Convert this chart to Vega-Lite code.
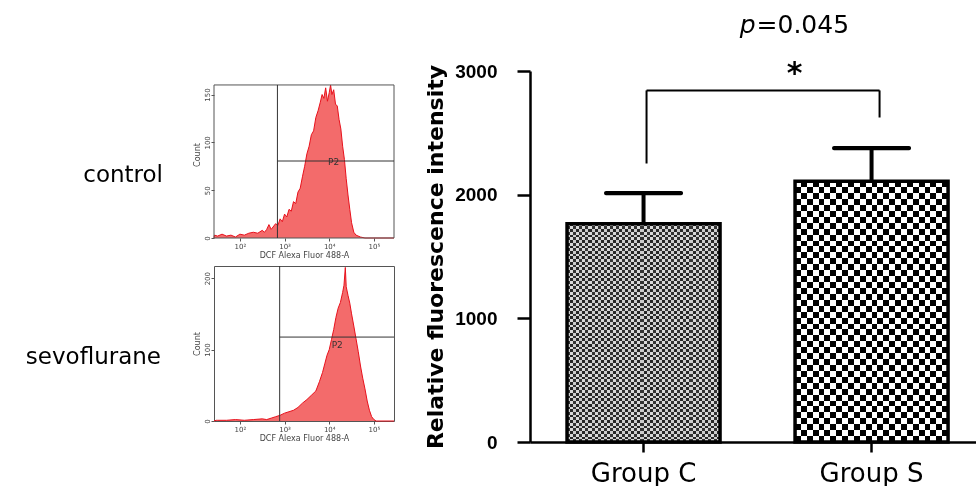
{
  "$schema": "https://vega.github.io/schema/vega-lite/v6.json",
  "background": "white",
  "padding": {"left": 25, "top": 13, "right": 0, "bottom": 0},
  "config": {"view": {"stroke": null}, "font": "DejaVu Sans"},
  "spacing": 27,
  "hconcat": [
    {
      "spacing": 5,
      "vconcat": [
        {
          "width": 180,
          "height": 167,
          "title": {"text": "control", "orient": "left", "angle": 0, "align": "left", "baseline": "middle", "anchor": "middle", "offset": 30, "dy": 20, "font": "DejaVu Sans", "fontSize": 23, "fontWeight": "normal", "color": "black"},
          "layer": [
            {
              "data": {"values": [
                {"log_fl": 1.42, "count": 0}, {"log_fl": 1.43, "count": 3}, {"log_fl": 1.5, "count": 2}, {"log_fl": 1.6, "count": 4}, {"log_fl": 1.7, "count": 2}, {"log_fl": 1.8, "count": 3}, {"log_fl": 1.9, "count": 1}, {"log_fl": 2.0, "count": 4}, {"log_fl": 2.1, "count": 3}, {"log_fl": 2.2, "count": 5}, {"log_fl": 2.3, "count": 6}, {"log_fl": 2.4, "count": 5}, {"log_fl": 2.5, "count": 8}, {"log_fl": 2.55, "count": 6}, {"log_fl": 2.6, "count": 9}, {"log_fl": 2.65, "count": 14}, {"log_fl": 2.7, "count": 9}, {"log_fl": 2.8, "count": 15}, {"log_fl": 2.85, "count": 13}, {"log_fl": 2.9, "count": 20}, {"log_fl": 2.95, "count": 17}, {"log_fl": 3.0, "count": 25}, {"log_fl": 3.05, "count": 22}, {"log_fl": 3.1, "count": 30}, {"log_fl": 3.15, "count": 28}, {"log_fl": 3.2, "count": 38}, {"log_fl": 3.25, "count": 36}, {"log_fl": 3.3, "count": 48}, {"log_fl": 3.35, "count": 52}, {"log_fl": 3.4, "count": 64}, {"log_fl": 3.45, "count": 75}, {"log_fl": 3.5, "count": 88}, {"log_fl": 3.55, "count": 96}, {"log_fl": 3.6, "count": 108}, {"log_fl": 3.65, "count": 112}, {"log_fl": 3.7, "count": 126}, {"log_fl": 3.75, "count": 133}, {"log_fl": 3.8, "count": 142}, {"log_fl": 3.84, "count": 150}, {"log_fl": 3.88, "count": 146}, {"log_fl": 3.92, "count": 157}, {"log_fl": 3.96, "count": 143}, {"log_fl": 4.0, "count": 152}, {"log_fl": 4.03, "count": 160}, {"log_fl": 4.06, "count": 150}, {"log_fl": 4.1, "count": 155}, {"log_fl": 4.14, "count": 140}, {"log_fl": 4.18, "count": 138}, {"log_fl": 4.22, "count": 124}, {"log_fl": 4.26, "count": 114}, {"log_fl": 4.3, "count": 96}, {"log_fl": 4.34, "count": 82}, {"log_fl": 4.38, "count": 62}, {"log_fl": 4.42, "count": 45}, {"log_fl": 4.46, "count": 30}, {"log_fl": 4.5, "count": 16}, {"log_fl": 4.55, "count": 6}, {"log_fl": 4.6, "count": 3}, {"log_fl": 4.7, "count": 1}, {"log_fl": 4.8, "count": 0}, {"log_fl": 5.45, "count": 0}
              ]},
              "mark": {"type": "area", "color": "#f36b6b", "opacity": 1, "line": {"color": "#e8111c", "strokeWidth": 1}},
              "encoding": {
                "x": {"field": "log_fl", "type": "quantitative", "scale": {"domain": [1.42, 5.45], "nice": false, "zero": false},
                  "axis": {"values": [2, 3, 4, 5], "labelExpr": "datum.value == 2 ? '10²' : datum.value == 3 ? '10³' : datum.value == 4 ? '10⁴' : '10⁵'", "labelFontSize": 7, "labelColor": "#444", "labelPadding": 1, "tickSize": 3, "tickColor": "#555", "domain": false, "grid": false, "title": "DCF Alexa Fluor 488-A", "titleFontSize": 8, "titleFontWeight": "normal", "titleColor": "#444", "titlePadding": 2}},
                "y": {"field": "count", "type": "quantitative", "scale": {"domain": [0, 174.6], "nice": false},
                  "axis": {"values": [0, 50, 100, 150], "labelAngle": -90, "labelFontSize": 7, "labelColor": "#444", "labelPadding": 1, "tickSize": 3, "tickColor": "#555", "domain": false, "grid": false, "title": "Count", "titleFontSize": 8, "titleFontWeight": "normal", "titleColor": "#444", "titlePadding": 2}}
              }
            },
            {
              "data": {"values": [{"x_min": 1.42, "x_max": 5.45, "c_min": 0, "c_max": 160}]},
              "mark": {"type": "rect", "filled": false, "stroke": "#555", "strokeWidth": 1},
              "encoding": {"x": {"field": "x_min", "type": "quantitative"}, "x2": {"field": "x_max"}, "y": {"field": "c_min", "type": "quantitative"}, "y2": {"field": "c_max"}}
            },
            {
              "data": {"values": [{"gate": 2.84, "c_min": 0, "c_max": 160}]},
              "mark": {"type": "rule", "color": "#333", "strokeWidth": 1},
              "encoding": {"x": {"field": "gate", "type": "quantitative"}, "y": {"field": "c_min", "type": "quantitative"}, "y2": {"field": "c_max"}}
            },
            {
              "data": {"values": [{"gate": 2.84, "gate_end": 5.45, "level": 80.5}]},
              "mark": {"type": "rule", "color": "#333", "strokeWidth": 1},
              "encoding": {"x": {"field": "gate", "type": "quantitative"}, "x2": {"field": "gate_end"}, "y": {"field": "level", "type": "quantitative"}}
            },
            {
              "data": {"values": [{"label": "P2", "x": 4.1, "y": 79}]},
              "mark": {"type": "text", "fontSize": 9, "color": "#333", "baseline": "middle"},
              "encoding": {"x": {"field": "x", "type": "quantitative"}, "y": {"field": "y", "type": "quantitative"}, "text": {"field": "label"}}
            }
          ]
        },
        {
          "width": 180,
          "height": 155,
          "view": {"stroke": "#555", "strokeWidth": 1},
          "title": {"text": "sevoflurane", "orient": "left", "angle": 0, "align": "left", "baseline": "middle", "anchor": "middle", "offset": 32, "dy": 13, "font": "DejaVu Sans", "fontSize": 23, "fontWeight": "normal", "color": "black"},
          "layer": [
            {
              "data": {"values": [
                {"log_fl": 1.42, "count": 0}, {"log_fl": 1.47, "count": 1}, {"log_fl": 1.5, "count": 1}, {"log_fl": 1.7, "count": 1}, {"log_fl": 1.9, "count": 2}, {"log_fl": 2.1, "count": 1}, {"log_fl": 2.3, "count": 2}, {"log_fl": 2.5, "count": 3}, {"log_fl": 2.6, "count": 2}, {"log_fl": 2.7, "count": 4}, {"log_fl": 2.8, "count": 6}, {"log_fl": 2.9, "count": 8}, {"log_fl": 3.0, "count": 11}, {"log_fl": 3.1, "count": 13}, {"log_fl": 3.2, "count": 15}, {"log_fl": 3.3, "count": 19}, {"log_fl": 3.4, "count": 25}, {"log_fl": 3.5, "count": 30}, {"log_fl": 3.6, "count": 36}, {"log_fl": 3.7, "count": 42}, {"log_fl": 3.78, "count": 55}, {"log_fl": 3.85, "count": 68}, {"log_fl": 3.9, "count": 80}, {"log_fl": 3.95, "count": 92}, {"log_fl": 4.0, "count": 100}, {"log_fl": 4.05, "count": 114}, {"log_fl": 4.1, "count": 128}, {"log_fl": 4.15, "count": 145}, {"log_fl": 4.2, "count": 158}, {"log_fl": 4.25, "count": 166}, {"log_fl": 4.3, "count": 180}, {"log_fl": 4.33, "count": 190}, {"log_fl": 4.36, "count": 215}, {"log_fl": 4.38, "count": 188}, {"log_fl": 4.42, "count": 176}, {"log_fl": 4.46, "count": 165}, {"log_fl": 4.5, "count": 150}, {"log_fl": 4.55, "count": 133}, {"log_fl": 4.6, "count": 115}, {"log_fl": 4.65, "count": 97}, {"log_fl": 4.7, "count": 77}, {"log_fl": 4.75, "count": 60}, {"log_fl": 4.8, "count": 45}, {"log_fl": 4.85, "count": 28}, {"log_fl": 4.9, "count": 15}, {"log_fl": 4.95, "count": 6}, {"log_fl": 5.0, "count": 2}, {"log_fl": 5.05, "count": 0}, {"log_fl": 5.45, "count": 0}
              ]},
              "mark": {"type": "area", "color": "#f36b6b", "opacity": 1, "line": {"color": "#e8111c", "strokeWidth": 1}},
              "encoding": {
                "x": {"field": "log_fl", "type": "quantitative", "scale": {"domain": [1.42, 5.45], "nice": false, "zero": false},
                  "axis": {"values": [2, 3, 4, 5], "labelExpr": "datum.value == 2 ? '10²' : datum.value == 3 ? '10³' : datum.value == 4 ? '10⁴' : '10⁵'", "labelFontSize": 7, "labelColor": "#444", "labelPadding": 1, "tickSize": 3, "tickColor": "#555", "domain": false, "grid": false, "title": "DCF Alexa Fluor 488-A", "titleFontSize": 8, "titleFontWeight": "normal", "titleColor": "#444", "titlePadding": 2}},
                "y": {"field": "count", "type": "quantitative", "scale": {"domain": [0, 217], "nice": false},
                  "axis": {"values": [0, 50, 100, 150, 200], "labelAngle": -90, "labelFontSize": 7, "labelColor": "#444", "labelPadding": 1, "tickSize": 3, "tickColor": "#555", "domain": false, "grid": false, "title": "Count", "titleFontSize": 8, "titleFontWeight": "normal", "titleColor": "#444", "titlePadding": 2}}
              }
            },
            {
              "data": {"values": [{"gate": 2.89}]},
              "mark": {"type": "rule", "color": "#333", "strokeWidth": 1},
              "encoding": {"x": {"field": "gate", "type": "quantitative"}}
            },
            {
              "data": {"values": [{"gate": 2.89, "gate_end": 5.45, "level": 117.5}]},
              "mark": {"type": "rule", "color": "#333", "strokeWidth": 1},
              "encoding": {"x": {"field": "gate", "type": "quantitative"}, "x2": {"field": "gate_end"}, "y": {"field": "level", "type": "quantitative"}}
            },
            {
              "data": {"values": [{"label": "P2", "x": 4.18, "y": 106}]},
              "mark": {"type": "text", "fontSize": 9, "color": "#333", "baseline": "middle"},
              "encoding": {"x": {"field": "x", "type": "quantitative"}, "y": {"field": "y", "type": "quantitative"}, "text": {"field": "label"}}
            }
          ]
        }
      ]
    },
    {
      "width": 446,
      "height": 371,
      "layer": [
        {
          "data": {"values": [
            {"group": "Group C", "mean": 1765, "upper": 2013},
            {"group": "Group S", "mean": 2108, "upper": 2377}
          ]},
          "layer": [
            {
              "transform": [{"filter": "datum.group == 'Group C'"}],
              "mark": {"type": "bar", "strokeWidth": 0, "fill": {"gradient": "linear", "x1": 0, "y1": 0, "x2": 1, "y2": 0, "stops": [
                {"offset": 0, "color": "#333333"}, {"offset": 0.02, "color": "#333333"}, {"offset": 0.02, "color": "#d9d9d9"}, {"offset": 0.04, "color": "#d9d9d9"},
                {"offset": 0.04, "color": "#333333"}, {"offset": 0.06, "color": "#333333"}, {"offset": 0.06, "color": "#d9d9d9"}, {"offset": 0.08, "color": "#d9d9d9"},
                {"offset": 0.08, "color": "#333333"}, {"offset": 0.1, "color": "#333333"}, {"offset": 0.1, "color": "#d9d9d9"}, {"offset": 0.12, "color": "#d9d9d9"},
                {"offset": 0.12, "color": "#333333"}, {"offset": 0.14, "color": "#333333"}, {"offset": 0.14, "color": "#d9d9d9"}, {"offset": 0.16, "color": "#d9d9d9"},
                {"offset": 0.16, "color": "#333333"}, {"offset": 0.18, "color": "#333333"}, {"offset": 0.18, "color": "#d9d9d9"}, {"offset": 0.2, "color": "#d9d9d9"},
                {"offset": 0.2, "color": "#333333"}, {"offset": 0.22, "color": "#333333"}, {"offset": 0.22, "color": "#d9d9d9"}, {"offset": 0.24, "color": "#d9d9d9"},
                {"offset": 0.24, "color": "#333333"}, {"offset": 0.26, "color": "#333333"}, {"offset": 0.26, "color": "#d9d9d9"}, {"offset": 0.28, "color": "#d9d9d9"},
                {"offset": 0.28, "color": "#333333"}, {"offset": 0.3, "color": "#333333"}, {"offset": 0.3, "color": "#d9d9d9"}, {"offset": 0.32, "color": "#d9d9d9"},
                {"offset": 0.32, "color": "#333333"}, {"offset": 0.34, "color": "#333333"}, {"offset": 0.34, "color": "#d9d9d9"}, {"offset": 0.36, "color": "#d9d9d9"},
                {"offset": 0.36, "color": "#333333"}, {"offset": 0.38, "color": "#333333"}, {"offset": 0.38, "color": "#d9d9d9"}, {"offset": 0.4, "color": "#d9d9d9"},
                {"offset": 0.4, "color": "#333333"}, {"offset": 0.42, "color": "#333333"}, {"offset": 0.42, "color": "#d9d9d9"}, {"offset": 0.44, "color": "#d9d9d9"},
                {"offset": 0.44, "color": "#333333"}, {"offset": 0.46, "color": "#333333"}, {"offset": 0.46, "color": "#d9d9d9"}, {"offset": 0.48, "color": "#d9d9d9"},
                {"offset": 0.48, "color": "#333333"}, {"offset": 0.5, "color": "#333333"}, {"offset": 0.5, "color": "#d9d9d9"}, {"offset": 0.52, "color": "#d9d9d9"},
                {"offset": 0.52, "color": "#333333"}, {"offset": 0.54, "color": "#333333"}, {"offset": 0.54, "color": "#d9d9d9"}, {"offset": 0.56, "color": "#d9d9d9"},
                {"offset": 0.56, "color": "#333333"}, {"offset": 0.58, "color": "#333333"}, {"offset": 0.58, "color": "#d9d9d9"}, {"offset": 0.6, "color": "#d9d9d9"},
                {"offset": 0.6, "color": "#333333"}, {"offset": 0.62, "color": "#333333"}, {"offset": 0.62, "color": "#d9d9d9"}, {"offset": 0.64, "color": "#d9d9d9"},
                {"offset": 0.64, "color": "#333333"}, {"offset": 0.66, "color": "#333333"}, {"offset": 0.66, "color": "#d9d9d9"}, {"offset": 0.68, "color": "#d9d9d9"},
                {"offset": 0.68, "color": "#333333"}, {"offset": 0.7, "color": "#333333"}, {"offset": 0.7, "color": "#d9d9d9"}, {"offset": 0.72, "color": "#d9d9d9"},
                {"offset": 0.72, "color": "#333333"}, {"offset": 0.74, "color": "#333333"}, {"offset": 0.74, "color": "#d9d9d9"}, {"offset": 0.76, "color": "#d9d9d9"},
                {"offset": 0.76, "color": "#333333"}, {"offset": 0.78, "color": "#333333"}, {"offset": 0.78, "color": "#d9d9d9"}, {"offset": 0.8, "color": "#d9d9d9"},
                {"offset": 0.8, "color": "#333333"}, {"offset": 0.82, "color": "#333333"}, {"offset": 0.82, "color": "#d9d9d9"}, {"offset": 0.84, "color": "#d9d9d9"},
                {"offset": 0.84, "color": "#333333"}, {"offset": 0.86, "color": "#333333"}, {"offset": 0.86, "color": "#d9d9d9"}, {"offset": 0.88, "color": "#d9d9d9"},
                {"offset": 0.88, "color": "#333333"}, {"offset": 0.9, "color": "#333333"}, {"offset": 0.9, "color": "#d9d9d9"}, {"offset": 0.92, "color": "#d9d9d9"},
                {"offset": 0.92, "color": "#333333"}, {"offset": 0.94, "color": "#333333"}, {"offset": 0.94, "color": "#d9d9d9"}, {"offset": 0.96, "color": "#d9d9d9"},
                {"offset": 0.96, "color": "#333333"}, {"offset": 0.98, "color": "#333333"}, {"offset": 0.98, "color": "#d9d9d9"}, {"offset": 1, "color": "#d9d9d9"}
              ]}},
              "encoding": {
                "x": {"field": "group", "type": "nominal", "sort": null,
                  "scale": {"domain": ["Group C", "Group S"], "paddingInner": 0.329, "paddingOuter": 0.1425, "align": 0.57},
                  "axis": {"title": null, "labelAngle": 0, "labelFont": "DejaVu Sans", "labelFontSize": 26, "labelColor": "black", "labelPadding": 8, "tickSize": 10, "tickWidth": 2.5, "tickColor": "black", "domainColor": "black", "domainWidth": 2.5}},
                "y": {"field": "mean", "type": "quantitative", "scale": {"domain": [0, 3000], "nice": false},
                  "axis": {"values": [0, 1000, 2000, 3000], "format": "d", "grid": false, "labelFont": "Liberation Sans", "labelFontWeight": "bold", "labelFontSize": 19, "labelColor": "black", "labelPadding": 20, "tickSize": 13, "tickWidth": 2.5, "tickColor": "black", "domainColor": "black", "domainWidth": 2.5, "title": "Relative fluorescence intensity", "titleFont": "DejaVu Sans", "titleFontSize": 22, "titleFontWeight": "bold", "titleColor": "black", "titlePadding": 7}}
              }
            },
            {
              "transform": [{"filter": "datum.group == 'Group C'"}],
              "mark": {"type": "bar", "strokeWidth": 0, "blend": "difference", "fill": {"gradient": "linear", "x1": 0, "y1": 0, "x2": 0, "y2": 1, "stops": [
                {"offset": 0, "color": "white"}, {"offset": 0.0125, "color": "white"}, {"offset": 0.0125, "color": "rgba(255,255,255,0)"}, {"offset": 0.025, "color": "rgba(255,255,255,0)"},
                {"offset": 0.025, "color": "white"}, {"offset": 0.0375, "color": "white"}, {"offset": 0.0375, "color": "rgba(255,255,255,0)"}, {"offset": 0.05, "color": "rgba(255,255,255,0)"},
                {"offset": 0.05, "color": "white"}, {"offset": 0.0625, "color": "white"}, {"offset": 0.0625, "color": "rgba(255,255,255,0)"}, {"offset": 0.075, "color": "rgba(255,255,255,0)"},
                {"offset": 0.075, "color": "white"}, {"offset": 0.0875, "color": "white"}, {"offset": 0.0875, "color": "rgba(255,255,255,0)"}, {"offset": 0.1, "color": "rgba(255,255,255,0)"},
                {"offset": 0.1, "color": "white"}, {"offset": 0.1125, "color": "white"}, {"offset": 0.1125, "color": "rgba(255,255,255,0)"}, {"offset": 0.125, "color": "rgba(255,255,255,0)"},
                {"offset": 0.125, "color": "white"}, {"offset": 0.1375, "color": "white"}, {"offset": 0.1375, "color": "rgba(255,255,255,0)"}, {"offset": 0.15, "color": "rgba(255,255,255,0)"},
                {"offset": 0.15, "color": "white"}, {"offset": 0.1625, "color": "white"}, {"offset": 0.1625, "color": "rgba(255,255,255,0)"}, {"offset": 0.175, "color": "rgba(255,255,255,0)"},
                {"offset": 0.175, "color": "white"}, {"offset": 0.1875, "color": "white"}, {"offset": 0.1875, "color": "rgba(255,255,255,0)"}, {"offset": 0.2, "color": "rgba(255,255,255,0)"},
                {"offset": 0.2, "color": "white"}, {"offset": 0.2125, "color": "white"}, {"offset": 0.2125, "color": "rgba(255,255,255,0)"}, {"offset": 0.225, "color": "rgba(255,255,255,0)"},
                {"offset": 0.225, "color": "white"}, {"offset": 0.2375, "color": "white"}, {"offset": 0.2375, "color": "rgba(255,255,255,0)"}, {"offset": 0.25, "color": "rgba(255,255,255,0)"},
                {"offset": 0.25, "color": "white"}, {"offset": 0.2625, "color": "white"}, {"offset": 0.2625, "color": "rgba(255,255,255,0)"}, {"offset": 0.275, "color": "rgba(255,255,255,0)"},
                {"offset": 0.275, "color": "white"}, {"offset": 0.2875, "color": "white"}, {"offset": 0.2875, "color": "rgba(255,255,255,0)"}, {"offset": 0.3, "color": "rgba(255,255,255,0)"},
                {"offset": 0.3, "color": "white"}, {"offset": 0.3125, "color": "white"}, {"offset": 0.3125, "color": "rgba(255,255,255,0)"}, {"offset": 0.325, "color": "rgba(255,255,255,0)"},
                {"offset": 0.325, "color": "white"}, {"offset": 0.3375, "color": "white"}, {"offset": 0.3375, "color": "rgba(255,255,255,0)"}, {"offset": 0.35, "color": "rgba(255,255,255,0)"},
                {"offset": 0.35, "color": "white"}, {"offset": 0.3625, "color": "white"}, {"offset": 0.3625, "color": "rgba(255,255,255,0)"}, {"offset": 0.375, "color": "rgba(255,255,255,0)"},
                {"offset": 0.375, "color": "white"}, {"offset": 0.3875, "color": "white"}, {"offset": 0.3875, "color": "rgba(255,255,255,0)"}, {"offset": 0.4, "color": "rgba(255,255,255,0)"},
                {"offset": 0.4, "color": "white"}, {"offset": 0.4125, "color": "white"}, {"offset": 0.4125, "color": "rgba(255,255,255,0)"}, {"offset": 0.425, "color": "rgba(255,255,255,0)"},
                {"offset": 0.425, "color": "white"}, {"offset": 0.4375, "color": "white"}, {"offset": 0.4375, "color": "rgba(255,255,255,0)"}, {"offset": 0.45, "color": "rgba(255,255,255,0)"},
                {"offset": 0.45, "color": "white"}, {"offset": 0.4625, "color": "white"}, {"offset": 0.4625, "color": "rgba(255,255,255,0)"}, {"offset": 0.475, "color": "rgba(255,255,255,0)"},
                {"offset": 0.475, "color": "white"}, {"offset": 0.4875, "color": "white"}, {"offset": 0.4875, "color": "rgba(255,255,255,0)"}, {"offset": 0.5, "color": "rgba(255,255,255,0)"},
                {"offset": 0.5, "color": "white"}, {"offset": 0.5125, "color": "white"}, {"offset": 0.5125, "color": "rgba(255,255,255,0)"}, {"offset": 0.525, "color": "rgba(255,255,255,0)"},
                {"offset": 0.525, "color": "white"}, {"offset": 0.5375, "color": "white"}, {"offset": 0.5375, "color": "rgba(255,255,255,0)"}, {"offset": 0.55, "color": "rgba(255,255,255,0)"},
                {"offset": 0.55, "color": "white"}, {"offset": 0.5625, "color": "white"}, {"offset": 0.5625, "color": "rgba(255,255,255,0)"}, {"offset": 0.575, "color": "rgba(255,255,255,0)"},
                {"offset": 0.575, "color": "white"}, {"offset": 0.5875, "color": "white"}, {"offset": 0.5875, "color": "rgba(255,255,255,0)"}, {"offset": 0.6, "color": "rgba(255,255,255,0)"},
                {"offset": 0.6, "color": "white"}, {"offset": 0.6125, "color": "white"}, {"offset": 0.6125, "color": "rgba(255,255,255,0)"}, {"offset": 0.625, "color": "rgba(255,255,255,0)"},
                {"offset": 0.625, "color": "white"}, {"offset": 0.6375, "color": "white"}, {"offset": 0.6375, "color": "rgba(255,255,255,0)"}, {"offset": 0.65, "color": "rgba(255,255,255,0)"},
                {"offset": 0.65, "color": "white"}, {"offset": 0.6625, "color": "white"}, {"offset": 0.6625, "color": "rgba(255,255,255,0)"}, {"offset": 0.675, "color": "rgba(255,255,255,0)"},
                {"offset": 0.675, "color": "white"}, {"offset": 0.6875, "color": "white"}, {"offset": 0.6875, "color": "rgba(255,255,255,0)"}, {"offset": 0.7, "color": "rgba(255,255,255,0)"},
                {"offset": 0.7, "color": "white"}, {"offset": 0.7125, "color": "white"}, {"offset": 0.7125, "color": "rgba(255,255,255,0)"}, {"offset": 0.725, "color": "rgba(255,255,255,0)"},
                {"offset": 0.725, "color": "white"}, {"offset": 0.7375, "color": "white"}, {"offset": 0.7375, "color": "rgba(255,255,255,0)"}, {"offset": 0.75, "color": "rgba(255,255,255,0)"},
                {"offset": 0.75, "color": "white"}, {"offset": 0.7625, "color": "white"}, {"offset": 0.7625, "color": "rgba(255,255,255,0)"}, {"offset": 0.775, "color": "rgba(255,255,255,0)"},
                {"offset": 0.775, "color": "white"}, {"offset": 0.7875, "color": "white"}, {"offset": 0.7875, "color": "rgba(255,255,255,0)"}, {"offset": 0.8, "color": "rgba(255,255,255,0)"},
                {"offset": 0.8, "color": "white"}, {"offset": 0.8125, "color": "white"}, {"offset": 0.8125, "color": "rgba(255,255,255,0)"}, {"offset": 0.825, "color": "rgba(255,255,255,0)"},
                {"offset": 0.825, "color": "white"}, {"offset": 0.8375, "color": "white"}, {"offset": 0.8375, "color": "rgba(255,255,255,0)"}, {"offset": 0.85, "color": "rgba(255,255,255,0)"},
                {"offset": 0.85, "color": "white"}, {"offset": 0.8625, "color": "white"}, {"offset": 0.8625, "color": "rgba(255,255,255,0)"}, {"offset": 0.875, "color": "rgba(255,255,255,0)"},
                {"offset": 0.875, "color": "white"}, {"offset": 0.8875, "color": "white"}, {"offset": 0.8875, "color": "rgba(255,255,255,0)"}, {"offset": 0.9, "color": "rgba(255,255,255,0)"},
                {"offset": 0.9, "color": "white"}, {"offset": 0.9125, "color": "white"}, {"offset": 0.9125, "color": "rgba(255,255,255,0)"}, {"offset": 0.925, "color": "rgba(255,255,255,0)"},
                {"offset": 0.925, "color": "white"}, {"offset": 0.9375, "color": "white"}, {"offset": 0.9375, "color": "rgba(255,255,255,0)"}, {"offset": 0.95, "color": "rgba(255,255,255,0)"},
                {"offset": 0.95, "color": "white"}, {"offset": 0.9625, "color": "white"}, {"offset": 0.9625, "color": "rgba(255,255,255,0)"}, {"offset": 0.975, "color": "rgba(255,255,255,0)"},
                {"offset": 0.975, "color": "white"}, {"offset": 0.9875, "color": "white"}, {"offset": 0.9875, "color": "rgba(255,255,255,0)"}, {"offset": 1, "color": "rgba(255,255,255,0)"}
              ]}},
              "encoding": {"x": {"field": "group", "type": "nominal", "sort": null}, "y": {"field": "mean", "type": "quantitative"}}
            },
            {
              "transform": [{"filter": "datum.group == 'Group S'"}],
              "mark": {"type": "bar", "strokeWidth": 0, "fill": {"gradient": "linear", "x1": 0, "y1": 0, "x2": 1, "y2": 0, "stops": [
                {"offset": 0, "color": "black"}, {"offset": 0.03846, "color": "black"}, {"offset": 0.03846, "color": "white"}, {"offset": 0.07692, "color": "white"},
                {"offset": 0.07692, "color": "black"}, {"offset": 0.11538, "color": "black"}, {"offset": 0.11538, "color": "white"}, {"offset": 0.15385, "color": "white"},
                {"offset": 0.15385, "color": "black"}, {"offset": 0.19231, "color": "black"}, {"offset": 0.19231, "color": "white"}, {"offset": 0.23077, "color": "white"},
                {"offset": 0.23077, "color": "black"}, {"offset": 0.26923, "color": "black"}, {"offset": 0.26923, "color": "white"}, {"offset": 0.30769, "color": "white"},
                {"offset": 0.30769, "color": "black"}, {"offset": 0.34615, "color": "black"}, {"offset": 0.34615, "color": "white"}, {"offset": 0.38462, "color": "white"},
                {"offset": 0.38462, "color": "black"}, {"offset": 0.42308, "color": "black"}, {"offset": 0.42308, "color": "white"}, {"offset": 0.46154, "color": "white"},
                {"offset": 0.46154, "color": "black"}, {"offset": 0.5, "color": "black"}, {"offset": 0.5, "color": "white"}, {"offset": 0.53846, "color": "white"},
                {"offset": 0.53846, "color": "black"}, {"offset": 0.57692, "color": "black"}, {"offset": 0.57692, "color": "white"}, {"offset": 0.61538, "color": "white"},
                {"offset": 0.61538, "color": "black"}, {"offset": 0.65385, "color": "black"}, {"offset": 0.65385, "color": "white"}, {"offset": 0.69231, "color": "white"},
                {"offset": 0.69231, "color": "black"}, {"offset": 0.73077, "color": "black"}, {"offset": 0.73077, "color": "white"}, {"offset": 0.76923, "color": "white"},
                {"offset": 0.76923, "color": "black"}, {"offset": 0.80769, "color": "black"}, {"offset": 0.80769, "color": "white"}, {"offset": 0.84615, "color": "white"},
                {"offset": 0.84615, "color": "black"}, {"offset": 0.88462, "color": "black"}, {"offset": 0.88462, "color": "white"}, {"offset": 0.92308, "color": "white"},
                {"offset": 0.92308, "color": "black"}, {"offset": 0.96154, "color": "black"}, {"offset": 0.96154, "color": "white"}, {"offset": 1, "color": "white"}
              ]}},
              "encoding": {"x": {"field": "group", "type": "nominal", "sort": null}, "y": {"field": "mean", "type": "quantitative"}}
            },
            {
              "transform": [{"filter": "datum.group == 'Group S'"}],
              "mark": {"type": "bar", "strokeWidth": 0, "blend": "difference", "fill": {"gradient": "linear", "x1": 0, "y1": 0, "x2": 0, "y2": 1, "stops": [
                {"offset": 0, "color": "white"}, {"offset": 0.02273, "color": "white"}, {"offset": 0.02273, "color": "rgba(255,255,255,0)"}, {"offset": 0.04545, "color": "rgba(255,255,255,0)"},
                {"offset": 0.04545, "color": "white"}, {"offset": 0.06818, "color": "white"}, {"offset": 0.06818, "color": "rgba(255,255,255,0)"}, {"offset": 0.09091, "color": "rgba(255,255,255,0)"},
                {"offset": 0.09091, "color": "white"}, {"offset": 0.11364, "color": "white"}, {"offset": 0.11364, "color": "rgba(255,255,255,0)"}, {"offset": 0.13636, "color": "rgba(255,255,255,0)"},
                {"offset": 0.13636, "color": "white"}, {"offset": 0.15909, "color": "white"}, {"offset": 0.15909, "color": "rgba(255,255,255,0)"}, {"offset": 0.18182, "color": "rgba(255,255,255,0)"},
                {"offset": 0.18182, "color": "white"}, {"offset": 0.20455, "color": "white"}, {"offset": 0.20455, "color": "rgba(255,255,255,0)"}, {"offset": 0.22727, "color": "rgba(255,255,255,0)"},
                {"offset": 0.22727, "color": "white"}, {"offset": 0.25, "color": "white"}, {"offset": 0.25, "color": "rgba(255,255,255,0)"}, {"offset": 0.27273, "color": "rgba(255,255,255,0)"},
                {"offset": 0.27273, "color": "white"}, {"offset": 0.29545, "color": "white"}, {"offset": 0.29545, "color": "rgba(255,255,255,0)"}, {"offset": 0.31818, "color": "rgba(255,255,255,0)"},
                {"offset": 0.31818, "color": "white"}, {"offset": 0.34091, "color": "white"}, {"offset": 0.34091, "color": "rgba(255,255,255,0)"}, {"offset": 0.36364, "color": "rgba(255,255,255,0)"},
                {"offset": 0.36364, "color": "white"}, {"offset": 0.38636, "color": "white"}, {"offset": 0.38636, "color": "rgba(255,255,255,0)"}, {"offset": 0.40909, "color": "rgba(255,255,255,0)"},
                {"offset": 0.40909, "color": "white"}, {"offset": 0.43182, "color": "white"}, {"offset": 0.43182, "color": "rgba(255,255,255,0)"}, {"offset": 0.45455, "color": "rgba(255,255,255,0)"},
                {"offset": 0.45455, "color": "white"}, {"offset": 0.47727, "color": "white"}, {"offset": 0.47727, "color": "rgba(255,255,255,0)"}, {"offset": 0.5, "color": "rgba(255,255,255,0)"},
                {"offset": 0.5, "color": "white"}, {"offset": 0.52273, "color": "white"}, {"offset": 0.52273, "color": "rgba(255,255,255,0)"}, {"offset": 0.54545, "color": "rgba(255,255,255,0)"},
                {"offset": 0.54545, "color": "white"}, {"offset": 0.56818, "color": "white"}, {"offset": 0.56818, "color": "rgba(255,255,255,0)"}, {"offset": 0.59091, "color": "rgba(255,255,255,0)"},
                {"offset": 0.59091, "color": "white"}, {"offset": 0.61364, "color": "white"}, {"offset": 0.61364, "color": "rgba(255,255,255,0)"}, {"offset": 0.63636, "color": "rgba(255,255,255,0)"},
                {"offset": 0.63636, "color": "white"}, {"offset": 0.65909, "color": "white"}, {"offset": 0.65909, "color": "rgba(255,255,255,0)"}, {"offset": 0.68182, "color": "rgba(255,255,255,0)"},
                {"offset": 0.68182, "color": "white"}, {"offset": 0.70455, "color": "white"}, {"offset": 0.70455, "color": "rgba(255,255,255,0)"}, {"offset": 0.72727, "color": "rgba(255,255,255,0)"},
                {"offset": 0.72727, "color": "white"}, {"offset": 0.75, "color": "white"}, {"offset": 0.75, "color": "rgba(255,255,255,0)"}, {"offset": 0.77273, "color": "rgba(255,255,255,0)"},
                {"offset": 0.77273, "color": "white"}, {"offset": 0.79545, "color": "white"}, {"offset": 0.79545, "color": "rgba(255,255,255,0)"}, {"offset": 0.81818, "color": "rgba(255,255,255,0)"},
                {"offset": 0.81818, "color": "white"}, {"offset": 0.84091, "color": "white"}, {"offset": 0.84091, "color": "rgba(255,255,255,0)"}, {"offset": 0.86364, "color": "rgba(255,255,255,0)"},
                {"offset": 0.86364, "color": "white"}, {"offset": 0.88636, "color": "white"}, {"offset": 0.88636, "color": "rgba(255,255,255,0)"}, {"offset": 0.90909, "color": "rgba(255,255,255,0)"},
                {"offset": 0.90909, "color": "white"}, {"offset": 0.93182, "color": "white"}, {"offset": 0.93182, "color": "rgba(255,255,255,0)"}, {"offset": 0.95455, "color": "rgba(255,255,255,0)"},
                {"offset": 0.95455, "color": "white"}, {"offset": 0.97727, "color": "white"}, {"offset": 0.97727, "color": "rgba(255,255,255,0)"}, {"offset": 1, "color": "rgba(255,255,255,0)"}
              ]}},
              "encoding": {"x": {"field": "group", "type": "nominal", "sort": null}, "y": {"field": "mean", "type": "quantitative"}}
            },
            {
              "mark": {"type": "bar", "filled": false, "stroke": "black", "strokeWidth": 3.5},
              "encoding": {"x": {"field": "group", "type": "nominal", "sort": null}, "y": {"field": "mean", "type": "quantitative"}}
            },
            {
              "mark": {"type": "rule", "color": "black", "strokeWidth": 4},
              "encoding": {"x": {"field": "group", "type": "nominal", "sort": null}, "y": {"field": "mean", "type": "quantitative"}, "y2": {"field": "upper"}}
            },
            {
              "mark": {"type": "tick", "color": "black", "opacity": 1, "size": 79, "thickness": 4.3, "cornerRadius": 2},
              "encoding": {"x": {"field": "group", "type": "nominal", "sort": null}, "y": {"field": "upper", "type": "quantitative"}}
            }
          ]
        },
        {
          "data": {"values": [{"group": "Group C", "top": 2843, "bottom": 2252}]},
          "mark": {"type": "rule", "color": "black", "strokeWidth": 2, "xOffset": 3},
          "encoding": {"x": {"field": "group", "type": "nominal", "sort": null}, "y": {"field": "top", "type": "quantitative"}, "y2": {"field": "bottom"}}
        },
        {
          "data": {"values": [{"group": "Group S", "top": 2843, "bottom": 2624}]},
          "mark": {"type": "rule", "color": "black", "strokeWidth": 2, "xOffset": 8},
          "encoding": {"x": {"field": "group", "type": "nominal", "sort": null}, "y": {"field": "top", "type": "quantitative"}, "y2": {"field": "bottom"}}
        },
        {
          "data": {"values": [{"from": "Group C", "to": "Group S", "level": 2843}]},
          "mark": {"type": "rule", "color": "black", "strokeWidth": 2, "xOffset": 3, "x2Offset": 8},
          "encoding": {"x": {"field": "from", "type": "nominal", "sort": null}, "x2": {"field": "to"}, "y": {"field": "level", "type": "quantitative"}}
        },
        {
          "data": {"values": [{"label": "*", "group": "Group S", "y": 2905}]},
          "mark": {"type": "text", "font": "DejaVu Sans", "fontSize": 30, "fontWeight": "bold", "dx": -77, "align": "center", "baseline": "alphabetic", "color": "black"},
          "encoding": {"x": {"field": "group", "type": "nominal", "sort": null}, "y": {"field": "y", "type": "quantitative"}, "text": {"field": "label"}}
        },
        {
          "data": {"values": [{"label": "p", "group": "Group S", "y": 3304}]},
          "mark": {"type": "text", "font": "DejaVu Sans", "fontSize": 25, "fontStyle": "italic", "dx": -116, "align": "right", "baseline": "alphabetic", "color": "black"},
          "encoding": {"x": {"field": "group", "type": "nominal", "sort": null}, "y": {"field": "y", "type": "quantitative"}, "text": {"field": "label"}}
        },
        {
          "data": {"values": [{"label": "=0.045", "group": "Group S", "y": 3304}]},
          "mark": {"type": "text", "font": "DejaVu Sans", "fontSize": 25, "dx": -115, "align": "left", "baseline": "alphabetic", "color": "black"},
          "encoding": {"x": {"field": "group", "type": "nominal", "sort": null}, "y": {"field": "y", "type": "quantitative"}, "text": {"field": "label"}}
        }
      ]
    }
  ]
}
